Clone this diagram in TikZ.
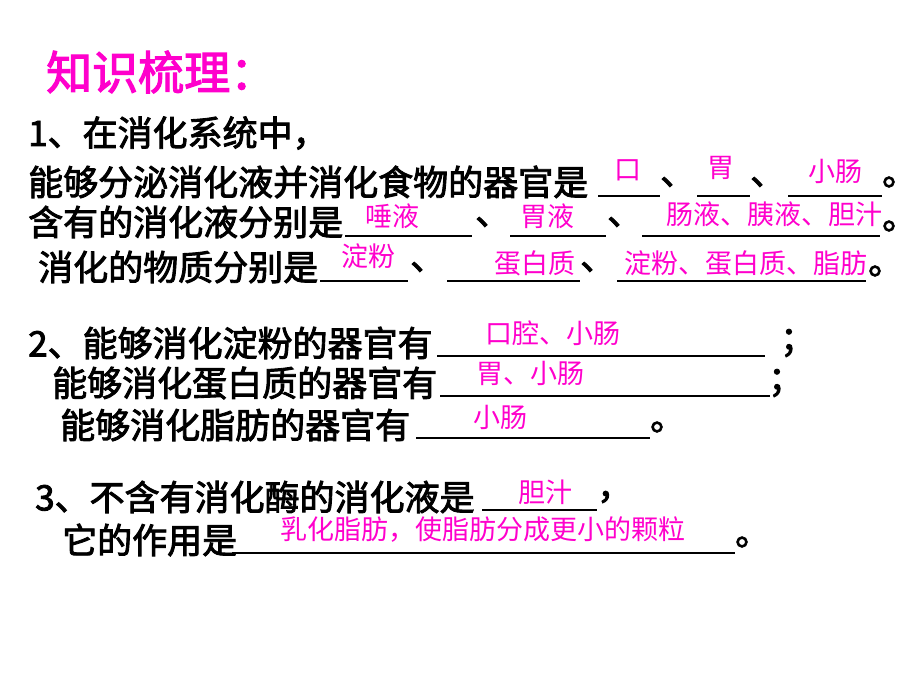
\documentclass[tikz,border=0pt]{standalone}
\usepackage{fontspec}
\newfontfamily\cjk{Noto Sans CJK SC}
\newfontfamily\cjkb{Noto Sans CJK SC}[FakeBold=2.5]
\definecolor{mag}{RGB}{255,0,204}
\begin{document}
\begin{tikzpicture}[x=1pt,y=-1pt,
 t/.style={anchor=west,inner sep=0pt,font=\cjkb\fontsize{35}{35}\selectfont},
 a/.style={inner sep=0pt,text=mag,font=\cjk\fontsize{27}{27}\selectfont},
 u/.style={line width=1.6pt}]
\useasboundingbox (0,0) rectangle (920,690);
\node[inner sep=0pt,anchor=west,text=mag,font=\cjkb\fontsize{46}{46}\selectfont] (title) at (46,72) {知识梳理：};
% line 1
\node[t] (l1) at (28,133) {1、在消化系统中，};
% line 2
\node[t] (l2) at (28,182) {能够分泌消化液并消化食物的器官是};
\coordinate (u2a) at (598,196); \coordinate (u2b) at (660,196);
\draw[u] (u2a) -- (u2b);
\node[t] (c2a) at (660,182) {、};
\coordinate (u2c) at (697,196); \coordinate (u2d) at (750,196);
\draw[u] (u2c) -- (u2d);
\node[t] (c2b) at (750,182) {、};
\coordinate (u2e) at (788,196); \coordinate (u2f) at (882,196);
\draw[u] (u2e) -- (u2f);
\node[t] (p2) at (882,182) {。};
\node[a] (a2a) at (628,170) {口};
\node[a] (a2b) at (721,168) {胃};
\node[a] (a2c) at (835,171) {小肠};
% line 3
\node[t] (l3) at (28,222) {含有的消化液分别是};
\coordinate (u3a) at (345,236); \coordinate (u3b) at (472,236);
\draw[u] (u3a) -- (u3b);
\node[t] (c3a) at (475,222) {、};
\coordinate (u3c) at (510,236); \coordinate (u3d) at (606,236);
\draw[u] (u3c) -- (u3d);
\node[t] (c3b) at (607,222) {、};
\coordinate (u3e) at (642,236); \coordinate (u3f) at (880,236);
\draw[u] (u3e) -- (u3f);
\node[t] (p3) at (882,226) {。};
\node[a] (a3a) at (392,216) {唾液};
\node[a] (a3b) at (547,216) {胃液};
\node[a] (a3c) at (774,214) {肠液、胰液、胆汁};
% line 4
\node[t] (l4) at (38,267) {消化的物质分别是};
\coordinate (u4a) at (320,281); \coordinate (u4b) at (408,281);
\draw[u] (u4a) -- (u4b);
\node[t] (c4a) at (410,267) {、};
\coordinate (u4c) at (447,281); \coordinate (u4d) at (580,281);
\draw[u] (u4c) -- (u4d);
\node[t] (c4b) at (580,267) {、};
\coordinate (u4e) at (617,281); \coordinate (u4f) at (866,281);
\draw[u] (u4e) -- (u4f);
\node[t] (p4) at (868,271) {。};
\node[a] (a4a) at (368,256) {淀粉};
\node[a] (a4b) at (535,263) {蛋白质};
\node[a] (a4c) at (746,263) {淀粉、蛋白质、脂肪};
% line 5
\node[t] (l5) at (28,343) {2、能够消化淀粉的器官有};
\coordinate (u5a) at (437,356); \coordinate (u5b) at (765,356);
\draw[u] (u5a) -- (u5b);
\node[t] (p5) at (780,343) {；};
\node[a] (a5) at (553,333) {口腔、小肠};
% line 6
\node[t] (l6) at (52,383) {能够消化蛋白质的器官有};
\coordinate (u6a) at (440,396); \coordinate (u6b) at (770,396);
\draw[u] (u6a) -- (u6b);
\node[t] (p6) at (768,383) {；};
\node[a] (a6) at (530,373) {胃、小肠};
% line 7
\node[t] (l7) at (60,425) {能够消化脂肪的器官有};
\coordinate (u7a) at (416,438); \coordinate (u7b) at (650,438);
\draw[u] (u7a) -- (u7b);
\node[t] (p7) at (650,427) {。};
\node[a] (a7) at (500,417) {小肠};
% line 8
\node[t] (l8) at (35,497) {3、不含有消化酶的消化液是};
\coordinate (u8a) at (482,510); \coordinate (u8b) at (597,510);
\draw[u] (u8a) -- (u8b);
\node[t] (p8) at (597,497) {，};
\node[a] (a8) at (545,492) {胆汁};
% line 9
\node[t] (l9) at (62,540) {它的作用是};
\coordinate (u9a) at (232,553); \coordinate (u9b) at (735,553);
\draw[u] (u9a) -- (u9b);
\node[t] (p9) at (735,542) {。};
\node[a] (a9) at (483,530) {乳化脂肪，使脂肪分成更小的颗粒};
\end{tikzpicture}
\end{document}
